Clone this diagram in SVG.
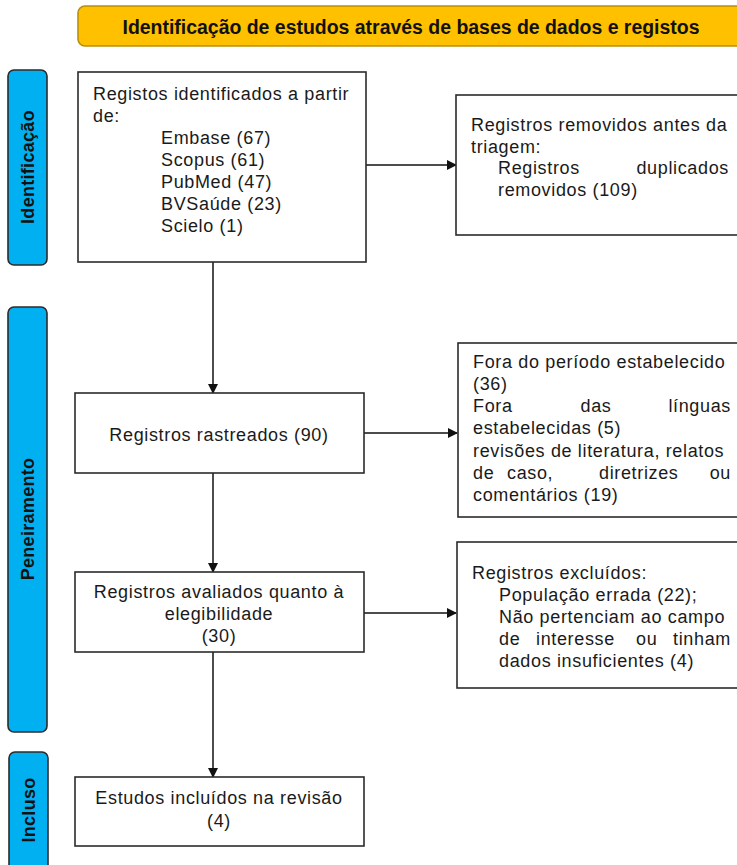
<svg xmlns="http://www.w3.org/2000/svg" width="737" height="865" viewBox="0 0 737 865">
<style>
.t{font-family:"Liberation Sans",Arial,sans-serif;font-size:18px;letter-spacing:0.65px;fill:#1a1a1a}
.c{text-anchor:middle}
.e{text-anchor:end}
.box{fill:#fff;stroke:#2b2b2b;stroke-width:1.6}
.side{fill:#00B0F0;stroke:#2b2b2b;stroke-width:1.6}
.sl{font-family:"Liberation Sans",Arial,sans-serif;font-size:18px;letter-spacing:0.3px;font-weight:bold;fill:#111;text-anchor:middle}
.ln{stroke:#111;stroke-width:1.5;fill:none}
</style>
<defs>
<marker id="ah" markerWidth="10" markerHeight="10" refX="9" refY="5" orient="auto" markerUnits="userSpaceOnUse">
<path d="M0,0 L10,5 L0,10 Z" fill="#111"/>
</marker>
</defs>
<rect width="737" height="865" fill="#fff"/>
<g id="banner">
<rect x="78" y="6" width="675" height="40" rx="7" fill="#FFC000" stroke="#b8900a" stroke-width="1.6"/>
<text x="411" y="34" font-family="'Liberation Sans',Arial,sans-serif" font-size="19.5" font-weight="bold" fill="#111" text-anchor="middle" textLength="577" lengthAdjust="spacingAndGlyphs">Identificação de estudos através de bases de dados e registos</text>
</g>
<g id="side-identificacao">
<rect class="side" x="8" y="70" width="39" height="195" rx="6"/>
<text class="sl" transform="translate(34,167) rotate(-90)">Identificação</text>
</g>
<g id="side-peneiramento">
<rect class="side" x="8" y="307" width="39" height="425" rx="6"/>
<text class="sl" transform="translate(34,519) rotate(-90)">Peneiramento</text>
</g>
<g id="side-incluso">
<rect class="side" x="9" y="752" width="39" height="125" rx="6"/>
<text class="sl" transform="translate(35,810) rotate(-90)">Incluso</text>
</g>
<g id="connectors">
<line class="ln" x1="213" y1="262" x2="213" y2="393" marker-end="url(#ah)"/>
<line class="ln" x1="213" y1="473" x2="213" y2="572" marker-end="url(#ah)"/>
<line class="ln" x1="213" y1="652" x2="213" y2="777" marker-end="url(#ah)"/>
<line class="ln" x1="366" y1="165" x2="456" y2="165" marker-end="url(#ah)"/>
<line class="ln" x1="364" y1="433" x2="457" y2="433" marker-end="url(#ah)"/>
<line class="ln" x1="364" y1="613" x2="456" y2="613" marker-end="url(#ah)"/>
</g>
<g id="registos-identificados">
<rect class="box" x="78" y="72" width="288" height="190"/>
<text class="t" x="93" y="100">Registos identificados a partir</text>
<text class="t" x="93" y="122">de:</text>
<text class="t" x="161" y="144">Embase (67)</text>
<text class="t" x="161" y="166">Scopus (61)</text>
<text class="t" x="161" y="188">PubMed (47)</text>
<text class="t" x="161" y="210">BVSaúde (23)</text>
<text class="t" x="161" y="232">Scielo (1)</text>
</g>
<g id="removidos">
<rect class="box" x="456" y="95" width="290" height="140"/>
<text class="t" x="471" y="131">Registros removidos antes da</text>
<text class="t" x="471" y="153">triagem:</text>
<text class="t" x="498" y="174">Registros</text>
<text class="t e" x="729" y="174">duplicados</text>
<text class="t" x="498" y="196">removidos (109)</text>
</g>
<g id="rastreados">
<rect class="box" x="75" y="393" width="289" height="80"/>
<text class="t c" x="219" y="441">Registros rastreados (90)</text>
</g>
<g id="excluidos-triagem">
<rect class="box" x="458" y="343" width="290" height="174"/>
<text class="t" x="473" y="368">Fora do período estabelecido</text>
<text class="t" x="473" y="390">(36)</text>
<text class="t" x="473" y="412">Fora</text>
<text class="t c" x="596" y="412">das</text>
<text class="t e" x="731" y="412">línguas</text>
<text class="t" x="473" y="434">estabelecidas (5)</text>
<text class="t" x="473" y="457">revisões de literatura, relatos</text>
<text class="t" x="473" y="479">de</text>
<text class="t" x="507" y="479">caso,</text>
<text class="t" x="599" y="479">diretrizes</text>
<text class="t e" x="731" y="479">ou</text>
<text class="t" x="473" y="501">comentários (19)</text>
</g>
<g id="avaliados">
<rect class="box" x="75" y="572" width="289" height="80"/>
<text class="t c" x="219" y="598">Registros avaliados quanto à</text>
<text class="t c" x="219" y="620">elegibilidade</text>
<text class="t c" x="219" y="642">(30)</text>
</g>
<g id="excluidos-elegibilidade">
<rect class="box" x="457" y="542" width="290" height="146"/>
<text class="t" x="472" y="579">Registros excluídos:</text>
<text class="t" x="499" y="601">População errada (22);</text>
<text class="t" x="499" y="623">Não pertenciam ao campo</text>
<text class="t" x="499" y="645">de</text>
<text class="t" x="536" y="645">interesse</text>
<text class="t" x="636" y="645">ou</text>
<text class="t e" x="731" y="645">tinham</text>
<text class="t" x="499" y="667">dados insuficientes (4)</text>
</g>
<g id="incluidos">
<rect class="box" x="75" y="777" width="289" height="69"/>
<text class="t c" x="219" y="804">Estudos incluídos na revisão</text>
<text class="t c" x="219" y="827">(4)</text>
</g>
</svg>
